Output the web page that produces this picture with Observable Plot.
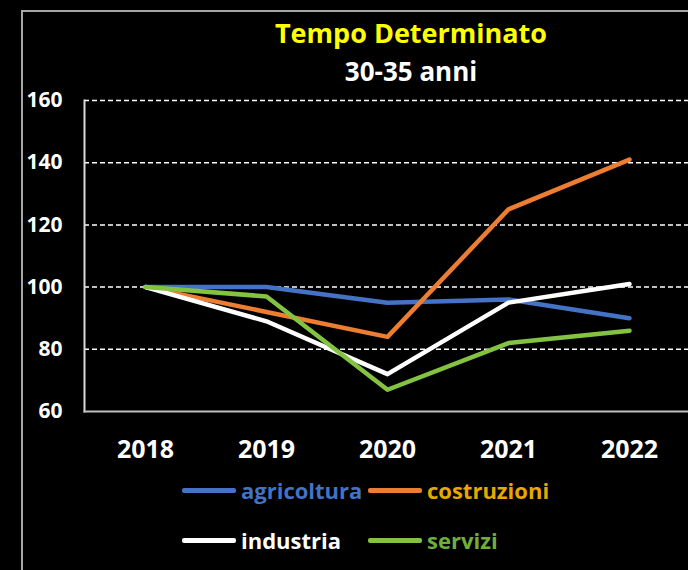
<!DOCTYPE html>
<html>
<head>
<meta charset="utf-8">
<script src="https://cdn.jsdelivr.net/npm/d3@7"></script>
<script src="https://cdn.jsdelivr.net/npm/@observablehq/plot@0.6"></script>
<style>
  html, body { margin: 0; padding: 0; background: #000; }
  #wrap { position: relative; width: 688px; height: 570px; background: #000; overflow: hidden; font-family: "Open Sans", sans-serif; font-weight: bold; }
  #border { position: absolute; left: 21px; top: 10px; width: 800px; height: 800px; border-left: 2px solid #a6a6a6; border-top: 2px solid #a6a6a6; }
  #chart { position: absolute; left: 0; top: 0; }
  .ttl { position: absolute; left: 0; width: 822px; text-align: center; white-space: nowrap; }
  #title { top: 14px; font-size: 27px; color: #ffff00; }
  #subtitle { top: 53px; font-size: 26px; color: #ffffff; }
  .leg { position: absolute; display: flex; align-items: center; font-size: 22px; white-space: nowrap; }
  .sw { display: inline-block; width: 54px; height: 5px; margin-right: 5px; border-radius: 2px; }
</style>
</head>
<body>
<div id="wrap">
  <div id="border"></div>
  <div id="chart"></div>
  <div class="ttl" id="title">Tempo Determinato</div>
  <div class="ttl" id="subtitle">30-35 anni</div>
  <div id="legend"></div>
</div>
<script>
const years = ["2018", "2019", "2020", "2021", "2022"];
const agricoltura = [100, 100, 95, 96, 90];
const costruzioni = [100, 92, 84, 125, 141];
const industria = [100, 89, 72, 95, 101];
const servizi = [100, 97, 67, 82, 86];
const seriesNames = ["agricoltura", "costruzioni", "industria", "servizi"];
const seriesValues = [agricoltura, costruzioni, industria, servizi];
const lineColors = ["#4472C4", "#ED7D31", "#FFFFFF", "#84C341"];
const textColors = ["#4472C4", "#E5A800", "#FFFFFF", "#6FAE3C"];
const yTicks = [60, 80, 100, 120, 140, 160];
const gridTicks = [80, 100, 120, 140, 160];

const data = seriesNames.flatMap((s, i) => years.map((y, j) => ({serie: s, year: y, value: seriesValues[i][j]})));

const chart = Plot.plot({
  width: 688,
  height: 570,
  marginLeft: 84,
  marginRight: 0,
  marginTop: 100,
  marginBottom: 159,
  style: {background: "transparent", color: "#fff", fontFamily: "Open Sans", fontWeight: "bold"},
  x: {type: "point", domain: years, range: [144, 630], padding: 0, label: null},
  y: {domain: [60, 160], label: null},
  color: {domain: seriesNames, range: lineColors},
  marks: [
    Plot.gridY(gridTicks, {stroke: "#ffffff", strokeOpacity: 1, strokeWidth: 1.5, strokeDasharray: "5,3"}),
    Plot.frame({anchor: "left", stroke: "#d9d9d9", strokeWidth: 2}),
    Plot.frame({anchor: "bottom", stroke: "#bfbfbf", strokeWidth: 2}),
    Plot.axisY(yTicks, {tickSize: 0, tickPadding: 22, fontSize: 21, fill: "#fff", label: null}),
    Plot.axisX(years, {tickSize: 0, tickPadding: 29, fontSize: 25, fill: "#fff", label: null}),
    Plot.line(data, {x: "year", y: "value", z: "serie", stroke: "serie", strokeWidth: 4.5, strokeLinejoin: "round", strokeLinecap: "round"})
  ]
});
document.getElementById("chart").appendChild(chart);

const legendPos = [[182, 491], [368, 491], [182, 541], [368, 541]];
const legend = document.getElementById("legend");
seriesNames.forEach((s, i) => {
  const d = document.createElement("div");
  d.className = "leg";
  d.style.left = legendPos[i][0] + "px";
  d.style.top = (legendPos[i][1] - 16) + "px";
  d.style.color = textColors[i];
  d.innerHTML = `<span class="sw" style="background:${lineColors[i]}"></span><span>${s}</span>`;
  legend.appendChild(d);
});
</script>
</body>
</html>
